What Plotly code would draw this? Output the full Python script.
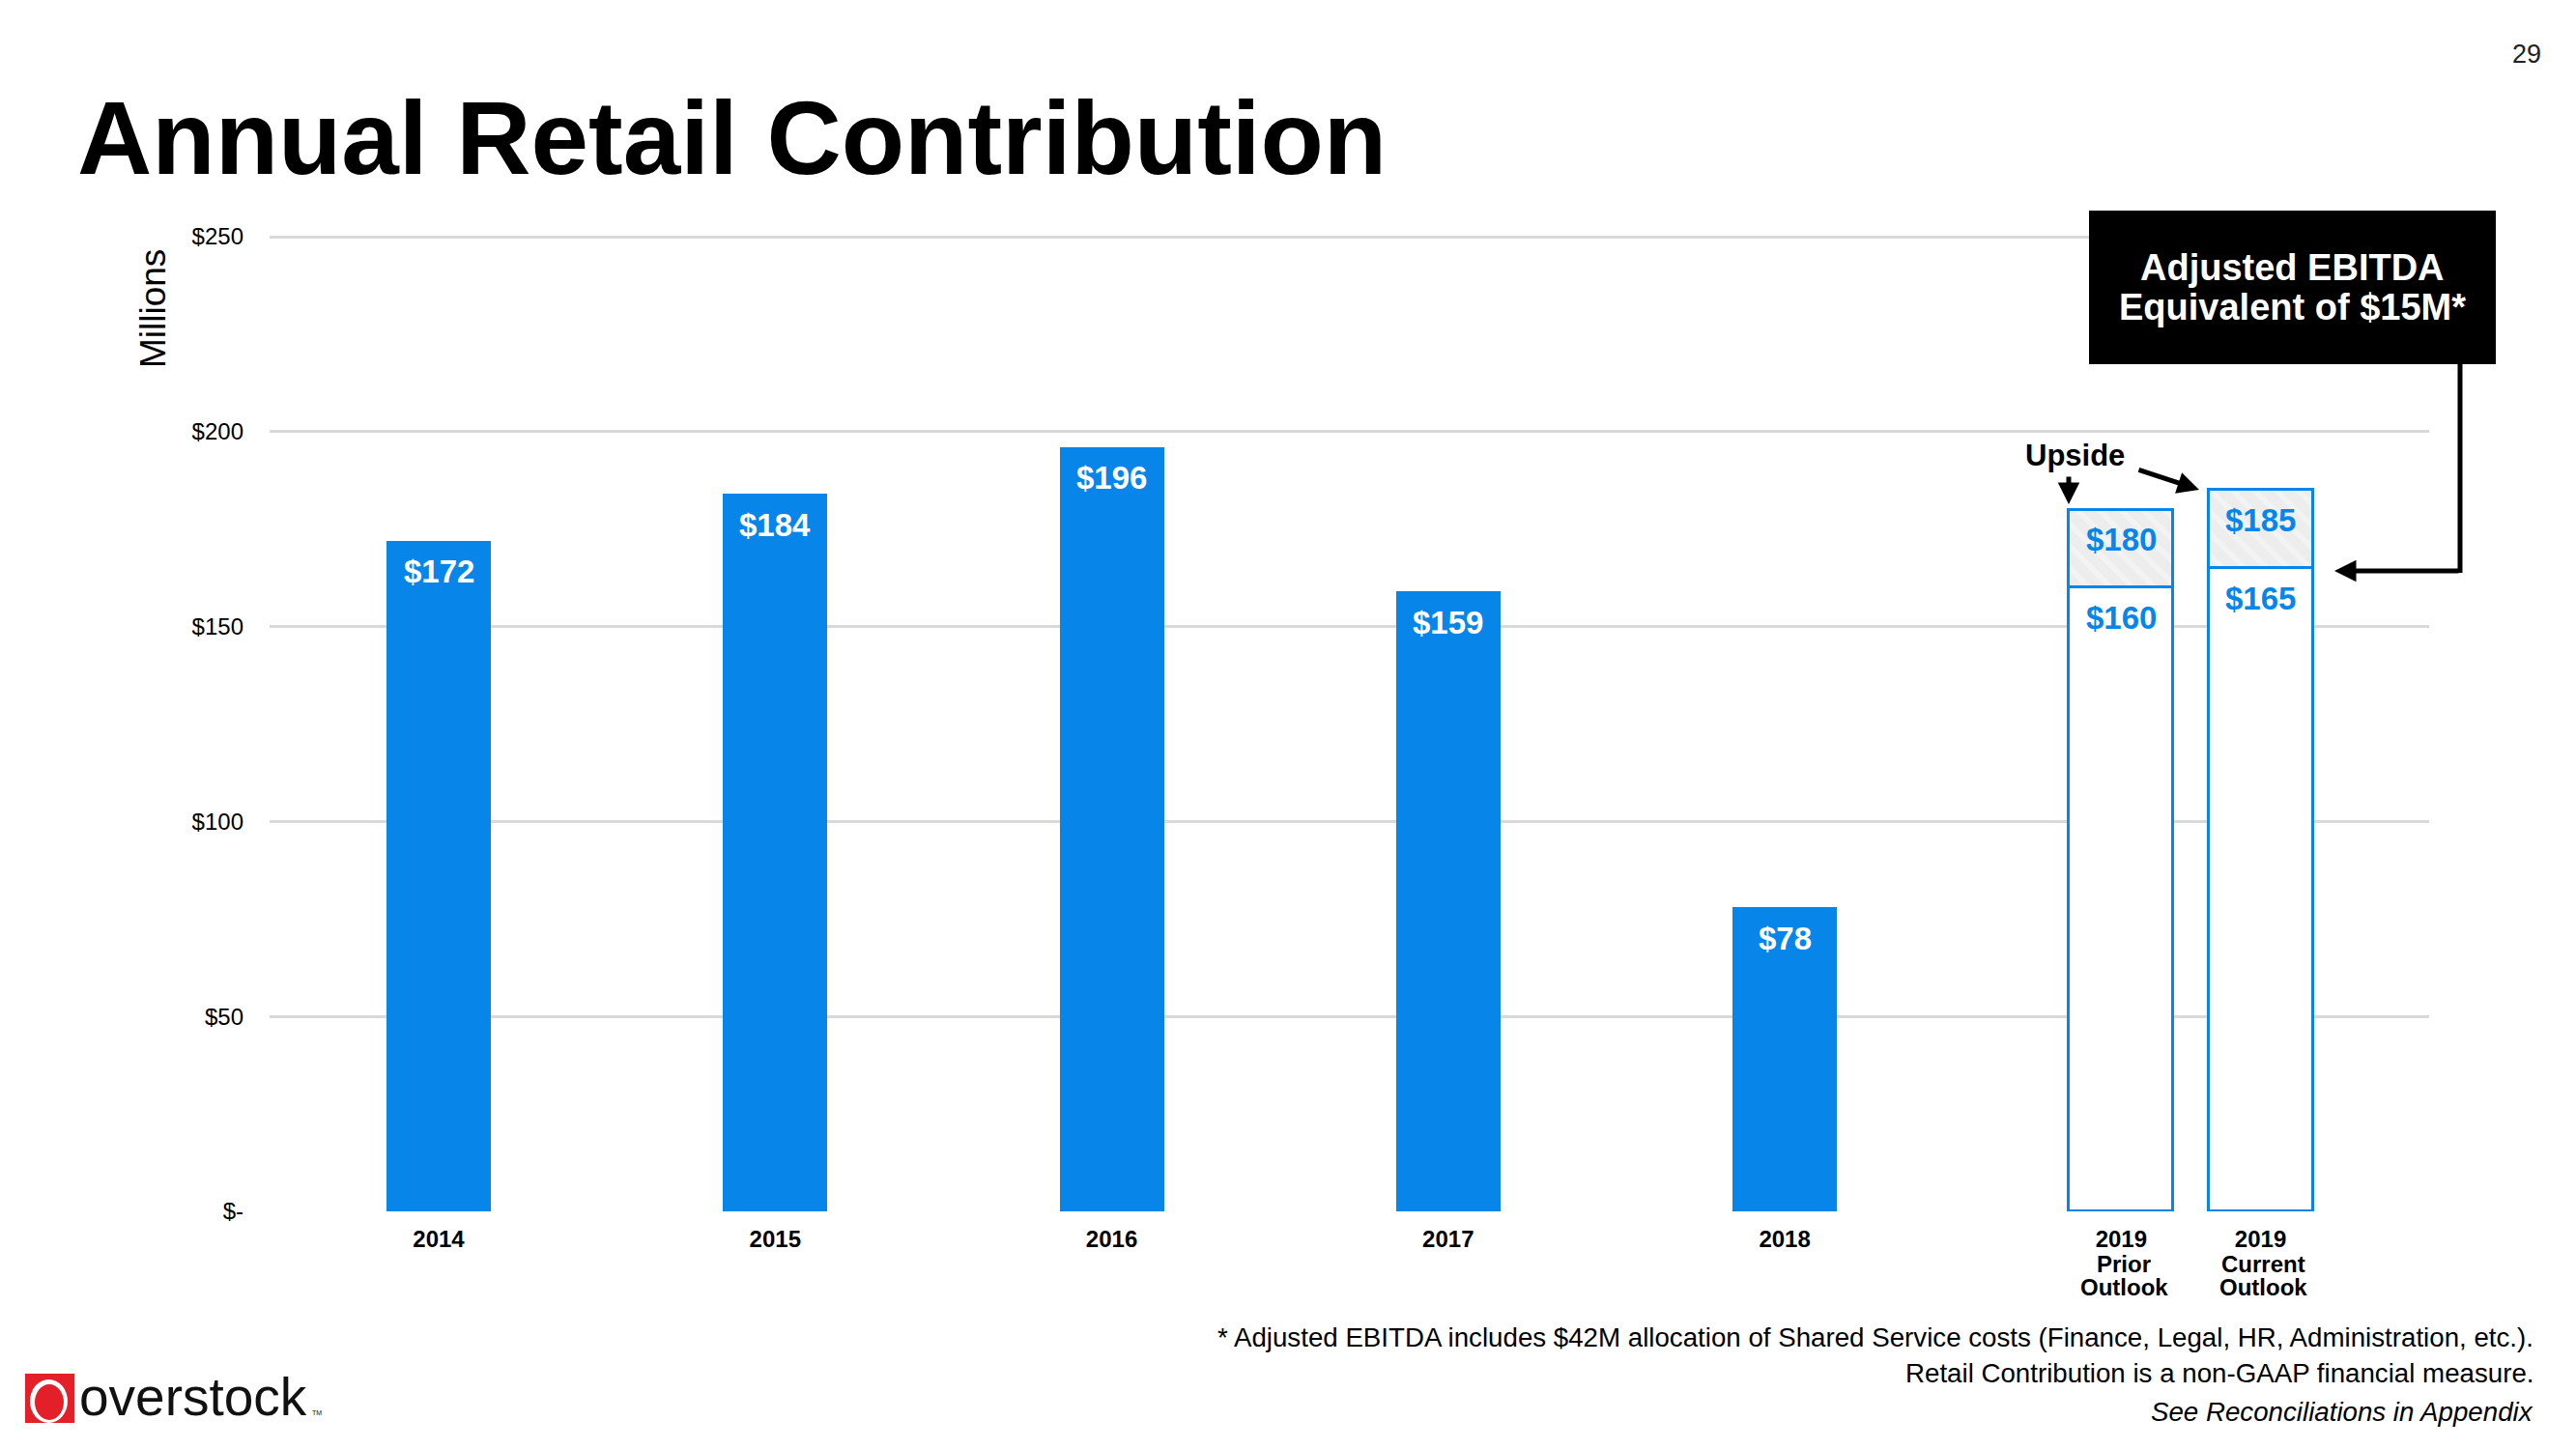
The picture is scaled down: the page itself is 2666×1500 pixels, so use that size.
import plotly.graph_objects as go

# ---------------- data ----------------
years = ["2014", "2015", "2016", "2017", "2018"]
retail_contribution = [172, 184, 196, 159, 78]

outlook_years = ["2019", "2019"]
outlook_line2 = ["Prior", "Current"]
outlook_line3 = ["Outlook", "Outlook"]
outlook_base = [160, 165]
outlook_total = [180, 185]

y_tickvals = [0, 50, 100, 150, 200, 250]
y_ticktext = ["$-", "$50", "$100", "$150", "$200", "$250"]

# category positions on the x axis (layout, not data)
year_pos = [0, 1, 2, 3, 4]
outlook_pos = [5, 5.414]

# ---------------- style ----------------
BLUE = "#0885E8"
FONT = "Liberation Sans, Arial, sans-serif"
OFF = 8                      # default page body margin
W, H = 2666 - 2 * OFF, 1500 - 2 * OFF
# plot-area edges in page pixels
L, R, T, B = 279, 2514, 241, 1254


def px(x):
    return (x - L) / (R - L)


def py(y):
    return (B - y) / (B - T)


fig = go.Figure()

fig.add_trace(go.Bar(
    x=year_pos, y=retail_contribution, width=0.31,
    marker=dict(color=BLUE, line=dict(width=0)),
    hoverinfo="skip", showlegend=False,
))

upside = [t - b for t, b in zip(outlook_total, outlook_base)]
fig.add_trace(go.Bar(
    x=outlook_pos, y=outlook_base, width=0.31,
    marker=dict(color="white", line=dict(color=BLUE, width=3)),
    hoverinfo="skip", showlegend=False,
))
fig.add_trace(go.Bar(
    x=outlook_pos, y=upside, width=0.31,
    marker=dict(color="#EDEDED", line=dict(color=BLUE, width=3),
                pattern=dict(shape="\\", fillmode="overlay", fgcolor="#FAFAFA",
                             size=16, solidity=0.35)),
    hoverinfo="skip", showlegend=False,
))

annotations = []
# value labels inside the bars
for xv, v in zip(year_pos, retail_contribution):
    annotations.append(dict(x=xv, y=v, xref="x", yref="y", text=f"<b>${v}</b>",
                            showarrow=False, yanchor="middle", yshift=-32,
                            font=dict(family=FONT, size=33, color="white")))
for xv, b, t in zip(outlook_pos, outlook_base, outlook_total):
    for v in (b, t):
        annotations.append(dict(x=xv, y=v, xref="x", yref="y", text=f"<b>${v}</b>",
                                showarrow=False, yanchor="middle", yshift=-31,
                                font=dict(family=FONT, size=33, color=BLUE)))
# second / third lines of the 2019 category labels
for xv, l2, l3 in zip(outlook_pos, outlook_line2, outlook_line3):
    annotations.append(dict(x=xv, y=py(1308), xref="x", yref="paper", text=f"<b>{l2}</b>",
                            showarrow=False, yanchor="middle", xshift=3,
                            font=dict(family=FONT, size=24, color="black")))
    annotations.append(dict(x=xv, y=py(1332), xref="x", yref="paper", text=f"<b>{l3}</b>",
                            showarrow=False, yanchor="middle", xshift=3,
                            font=dict(family=FONT, size=24, color="black")))

# title and page number
annotations.append(dict(x=px(78), y=py(143), xref="paper", yref="paper",
                        text="<b>Annual Retail Contribution</b>", showarrow=False,
                        xanchor="left", yanchor="middle",
                        font=dict(family=FONT, size=107, color="black")))
annotations.append(dict(x=px(2615), y=py(56), xref="paper", yref="paper",
                        text="29", showarrow=False, xanchor="center", yanchor="middle",
                        font=dict(family=FONT, size=27, color="#222")))
# y-axis title
annotations.append(dict(x=px(158), y=py(320), xref="paper", yref="paper",
                        text="Millions", showarrow=False, textangle=-90,
                        xanchor="center", yanchor="middle",
                        font=dict(family=FONT, size=37, color="black")))
# black box text
annotations.append(dict(x=px(2372), y=py(277), xref="paper", yref="paper",
                        text="<b>Adjusted EBITDA</b>", showarrow=False,
                        xanchor="center", yanchor="middle",
                        font=dict(family=FONT, size=38, color="white")))
annotations.append(dict(x=px(2372), y=py(318), xref="paper", yref="paper",
                        text="<b>Equivalent of $15M*</b>", showarrow=False,
                        xanchor="center", yanchor="middle",
                        font=dict(family=FONT, size=38, color="white")))
# arrow from box to current outlook
annotations.append(dict(x=px(2416), y=py(591), xref="paper", yref="paper",
                        ax=130, ay=0, text="", showarrow=True,
                        arrowhead=2, arrowsize=0.9, arrowwidth=5, arrowcolor="black",
                        standoff=0))
# Upside label and arrows
annotations.append(dict(x=px(2147), y=py(471), xref="paper", yref="paper",
                        text="<b>Upside</b>", showarrow=False,
                        xanchor="center", yanchor="middle",
                        font=dict(family=FONT, size=31, color="black")))
annotations.append(dict(x=px(2141), y=py(522), xref="paper", yref="paper",
                        ax=0, ay=-30, text="", showarrow=True,
                        arrowhead=2, arrowsize=0.9, arrowwidth=5, arrowcolor="black",
                        standoff=0))
annotations.append(dict(x=px(2276), y=py(507), xref="paper", yref="paper",
                        ax=-64, ay=-21, text="", showarrow=True,
                        arrowhead=2, arrowsize=0.9, arrowwidth=5, arrowcolor="black",
                        standoff=0))
# footnotes
foot = [
    ("* Adjusted EBITDA includes $42M allocation of Shared Service costs (Finance, Legal, HR, Administration, etc.).", 1384),
    ("Retail Contribution is a non-GAAP financial measure.", 1421),
    ("<i>See Reconciliations in Appendix</i>", 1461),
]
for txt, yy in foot:
    annotations.append(dict(x=px(2624), y=py(yy), xref="paper", yref="paper",
                            text=txt, showarrow=False, xanchor="right", yanchor="middle",
                            font=dict(family=FONT, size=27.7, color="black")))
# logo text
annotations.append(dict(x=px(80), y=py(1446), xref="paper", yref="paper",
                        text="overstock", showarrow=False, xanchor="left", yanchor="middle",
                        font=dict(family=FONT, size=55, color="#111")))
annotations.append(dict(x=px(321), y=py(1462), xref="paper", yref="paper",
                        text="TM", showarrow=False, xanchor="left", yanchor="middle",
                        font=dict(family=FONT, size=7, color="#111")))

shapes = [
    # black box
    dict(type="rect", xref="paper", yref="paper", x0=px(2162), x1=px(2583),
         y0=py(377), y1=py(218), fillcolor="black", line=dict(width=0), layer="above"),
    # connector vertical
    dict(type="line", xref="paper", yref="paper", x0=px(2546), x1=px(2546),
         y0=py(377), y1=py(593), line=dict(color="black", width=5)),
    # logo
    dict(type="rect", xref="paper", yref="paper", x0=px(26), x1=px(77),
         y0=py(1473), y1=py(1422), fillcolor="#E3202A", line=dict(width=0)),
    dict(type="circle", xref="paper", yref="paper", x0=px(31), x1=px(70),
         y0=py(1473), y1=py(1428), fillcolor="white", line=dict(width=0)),
    dict(type="circle", xref="paper", yref="paper", x0=px(36), x1=px(66),
         y0=py(1470), y1=py(1433), fillcolor="#E3202A", line=dict(width=0)),
]

fig.update_layout(
    width=W, height=H, autosize=False,
    margin=dict(l=L - OFF, r=W + OFF - R, t=T - OFF, b=H + OFF - B, pad=0),
    paper_bgcolor="white", plot_bgcolor="white",
    barmode="stack", bargap=0,
    showlegend=False,
    annotations=annotations, shapes=shapes,
    font=dict(family=FONT, color="black"),
)
fig.update_yaxes(range=[0, 251], tickvals=y_tickvals, ticktext=y_ticktext,
                 showgrid=True, gridcolor="#D9D9D9", gridwidth=3,
                 zeroline=False, showline=False, ticks="",
                 ticklabelstandoff=26,
                 tickfont=dict(family=FONT, size=24, color="black"))
fig.update_xaxes(range=[-0.5025, 5.915],
                 tickvals=year_pos + outlook_pos, ticktext=years + outlook_years,
                 showgrid=False, zeroline=False, showline=False, ticks="",
                 ticklabelstandoff=12,
                 tickfont=dict(family=FONT, size=24, color="black", weight="bold"))

fig.write_html("out.html")
